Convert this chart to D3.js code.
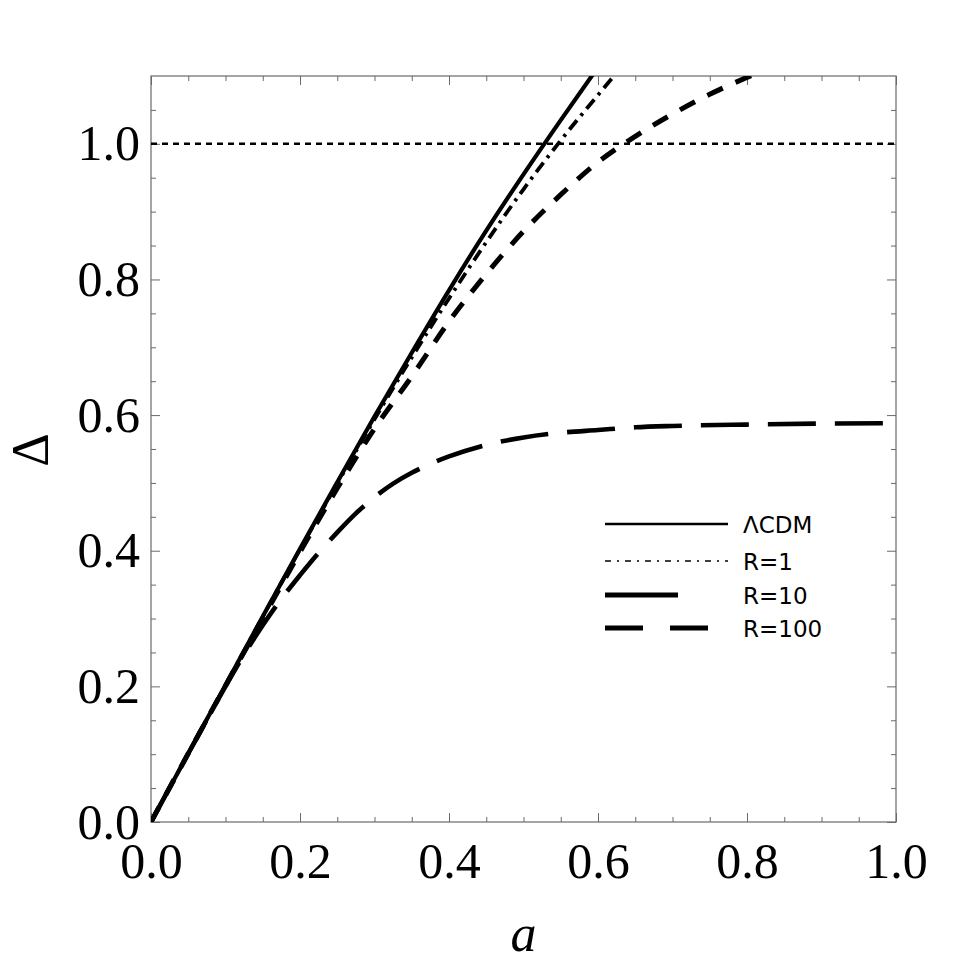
<!DOCTYPE html>
<html>
<head>
<meta charset="utf-8">
<script src="https://cdn.jsdelivr.net/npm/d3@7"></script>
<style>
  body { margin: 0; background: #fff; }
  svg { display: block; }
</style>
</head>
<body>
<svg id="chart"></svg>
<script>
// curves: a on x, Delta on y
let aLcdm = [0, 0.05, 0.1, 0.15, 0.2, 0.25, 0.3, 0.35, 0.4, 0.45, 0.5, 0.55, 0.6];
let dLcdm = [0, 0.101, 0.202, 0.303, 0.403, 0.501, 0.598, 0.692, 0.784, 0.872, 0.955, 1.035, 1.113];

let aR1 = [0, 0.05, 0.1, 0.15, 0.2, 0.25, 0.3, 0.35, 0.4, 0.45, 0.5, 0.55, 0.6, 0.65];
let dR1 = [0, 0.101, 0.202, 0.303, 0.402, 0.499, 0.594, 0.685, 0.772, 0.855, 0.933, 1.005, 1.072, 1.137];

let aR10 = [0, 0.05, 0.1, 0.15, 0.2, 0.25, 0.3, 0.35, 0.4, 0.45, 0.5, 0.55, 0.6, 0.65, 0.7, 0.75, 0.8, 0.85];
let dR10 = [0, 0.101, 0.201, 0.300, 0.398, 0.492, 0.580, 0.657, 0.738, 0.808, 0.871, 0.925, 0.973, 1.011, 1.044, 1.073, 1.098, 1.121];

let aR100 = [0, 0.05, 0.1, 0.125, 0.15, 0.175, 0.2, 0.225, 0.25, 0.275, 0.3, 0.325, 0.35, 0.375, 0.4, 0.45, 0.5, 0.55, 0.6, 0.65, 0.7, 0.8, 0.9, 1.0];
let dR100 = [0, 0.101, 0.200, 0.247, 0.290, 0.329, 0.364, 0.397, 0.427, 0.455, 0.479, 0.499, 0.515, 0.528, 0.539, 0.556, 0.567, 0.574, 0.578, 0.582, 0.584, 0.586, 0.5875, 0.588];

let refLevel = [1.0];

let majorTicks = [0, 0.2, 0.4, 0.6, 0.8, 1.0];
let minorTicks = [0.05, 0.1, 0.15, 0.25, 0.3, 0.35, 0.45, 0.5, 0.55, 0.65, 0.7, 0.75, 0.85, 0.9, 0.95, 1.05];
let tickLabels = ["0.0", "0.2", "0.4", "0.6", "0.8", "1.0"];

let legendNames = ["\u039BCDM", "R=1", "R=10", "R=100"];

let W = 975, H = 969;
let pLeft = 151, pRight = 896, pTop = 76, pBottom = 822;

let svg = d3.select("#chart").attr("width", W).attr("height", H);

let x = d3.scaleLinear().domain([0, 1]).range([pLeft, pRight]);
let y = d3.scaleLinear().domain([0, 1.1]).range([pBottom, pTop]);

let frameColor = "#6a6a6a";
let serif = "'Liberation Serif', 'Times New Roman', serif";

svg.append("defs").append("clipPath").attr("id", "plotClip")
   .append("rect")
   .attr("x", pLeft).attr("y", pTop)
   .attr("width", pRight - pLeft).attr("height", pBottom - pTop);

// axes, ticks inward
let styleAxis = (g) => {
  g.select(".domain").remove();
  g.selectAll(".tick line").attr("stroke", frameColor).attr("stroke-width", 1);
  g.selectAll(".tick text")
   .attr("fill", "#000")
   .style("font-family", serif)
   .style("font-size", "50px");
};

let xMajor = d3.axisBottom(x).tickValues(majorTicks)
               .tickSize(-9).tickPadding(20)
               .tickFormat((d, i) => tickLabels[i]);
svg.append("g").attr("transform", `translate(0,${pBottom})`).call(xMajor).call(styleAxis);

let yMajor = d3.axisLeft(y).tickValues(majorTicks)
               .tickSize(-9).tickPadding(11)
               .tickFormat((d, i) => tickLabels[i]);
svg.append("g").attr("transform", `translate(${pLeft},0)`).call(yMajor).call(styleAxis);

svg.append("g").attr("transform", `translate(0,${pBottom})`)
   .call(d3.axisBottom(x).tickValues(minorTicks.filter(d => d < 1)).tickSize(-5).tickFormat(""))
   .call(styleAxis);
svg.append("g").attr("transform", `translate(${pLeft},0)`)
   .call(d3.axisLeft(y).tickValues(minorTicks).tickSize(-5).tickFormat(""))
   .call(styleAxis);

// mirrored ticks on top and right
svg.append("g").attr("transform", `translate(0,${pTop})`)
   .call(d3.axisTop(x).tickValues(majorTicks).tickSize(-9).tickFormat(""))
   .call(styleAxis);
svg.append("g").attr("transform", `translate(0,${pTop})`)
   .call(d3.axisTop(x).tickValues(minorTicks.filter(d => d < 1)).tickSize(-5).tickFormat(""))
   .call(styleAxis);
svg.append("g").attr("transform", `translate(${pRight},0)`)
   .call(d3.axisRight(y).tickValues(majorTicks).tickSize(-9).tickFormat(""))
   .call(styleAxis);
svg.append("g").attr("transform", `translate(${pRight},0)`)
   .call(d3.axisRight(y).tickValues(minorTicks).tickSize(-5).tickFormat(""))
   .call(styleAxis);

svg.append("rect")
   .attr("x", pLeft).attr("y", pTop)
   .attr("width", pRight - pLeft).attr("height", pBottom - pTop)
   .attr("fill", "none").attr("stroke", frameColor).attr("stroke-width", 1.2);

// dotted level line
let plot = svg.append("g").attr("clip-path", "url(#plotClip)");

plot.selectAll("line.level")
    .data(refLevel)
    .enter()
    .append("line")
    .attr("class", "level")
    .attr("x1", x(0)).attr("x2", x(1))
    .attr("y1", d => y(d)).attr("y2", d => y(d))
    .attr("stroke", "#000")
    .attr("stroke-width", 2.6)
    .attr("stroke-dasharray", "6,5");

let series = [
  { a: aR100, d: dR100, width: 4.6, dash: "48,19" },
  { a: aR10, d: dR10, width: 5, dash: "17,14" },
  { a: aR1, d: dR1, width: 3.8, dash: "12,6,3,6" },
  { a: aLcdm, d: dLcdm, width: 4.2, dash: null }
];

let line = d3.line()
             .x(p => x(p[0]))
             .y(p => y(p[1]))
             .curve(d3.curveMonotoneX);

plot.selectAll("path.curve")
    .data(series)
    .enter()
    .append("path")
    .attr("class", "curve")
    .attr("d", s => line(s.a.map((v, i) => [v, s.d[i]])))
    .attr("fill", "none")
    .attr("stroke", "#000")
    .attr("stroke-width", s => s.width)
    .attr("stroke-dasharray", s => s.dash);

// legend
let legendRows = [
  { y: 524, x2: 728, width: 2.4, dash: null },
  { y: 561, x2: 728, width: 1.3, dash: "6,6,2,6" },
  { y: 595, x2: 678, width: 5, dash: null },
  { y: 628, x2: 708, width: 5, dash: "38,27" }
];

let legend = svg.append("g");
legend.selectAll("line")
      .data(legendRows)
      .enter()
      .append("line")
      .attr("x1", 605).attr("x2", d => d.x2)
      .attr("y1", d => d.y).attr("y2", d => d.y)
      .attr("stroke", "#000")
      .attr("stroke-width", d => d.width)
      .attr("stroke-dasharray", d => d.dash);

legend.selectAll("text")
      .data(legendNames)
      .enter()
      .append("text")
      .attr("x", 743)
      .attr("y", (d, i) => legendRows[i].y + 9)
      .style("font-family", "'DejaVu Sans', Verdana, sans-serif")
      .style("font-size", "23px")
      .text(d => d);

// axis titles
svg.append("text")
   .attr("x", (pLeft + pRight) / 2)
   .attr("y", 951)
   .attr("text-anchor", "middle")
   .style("font-family", serif)
   .style("font-style", "italic")
   .style("font-size", "52px")
   .text("a");

svg.append("text")
   .attr("transform", "translate(48,450) rotate(-90)")
   .attr("text-anchor", "middle")
   .style("font-family", serif)
   .style("font-size", "52px")
   .text("\u0394");
</script>
</body>
</html>
